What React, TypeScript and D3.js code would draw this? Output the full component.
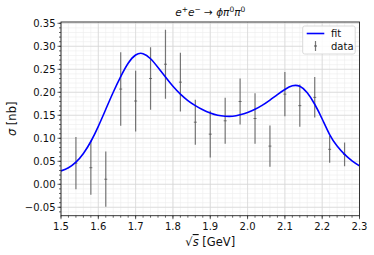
import React from "react";
import * as d3 from "d3";

const dataX = [1.54, 1.58, 1.62, 1.66, 1.70, 1.74, 1.78, 1.82, 1.86, 1.90, 1.94, 1.98, 2.02, 2.06, 2.10, 2.14, 2.18, 2.22, 2.26];
const dataY = [0.046, 0.036, 0.011, 0.207, 0.181, 0.230, 0.261, 0.222, 0.135, 0.109, 0.138, 0.180, 0.143, 0.083, 0.196, 0.171, 0.189, 0.076, 0.065];
const dataErr = [0.057, 0.059, 0.060, 0.080, 0.066, 0.068, 0.075, 0.064, 0.049, 0.051, 0.050, 0.050, 0.055, 0.045, 0.048, 0.046, 0.044, 0.029, 0.026];

const fitX = [1.50, 1.52, 1.54, 1.56, 1.58, 1.60, 1.62, 1.64, 1.66, 1.68, 1.70, 1.72, 1.74, 1.76, 1.78, 1.80, 1.82, 1.84, 1.86, 1.88, 1.90, 1.92, 1.94, 1.96, 1.98, 2.00, 2.02, 2.04, 2.06, 2.08, 2.10, 2.12, 2.14, 2.16, 2.18, 2.20, 2.22, 2.24, 2.26, 2.28, 2.30];
const fitY = [0.029, 0.036, 0.048, 0.067, 0.093, 0.126, 0.163, 0.200, 0.234, 0.263, 0.281, 0.284, 0.273, 0.254, 0.233, 0.213, 0.196, 0.182, 0.171, 0.162, 0.155, 0.150, 0.148, 0.148, 0.151, 0.156, 0.163, 0.172, 0.183, 0.195, 0.206, 0.214, 0.213, 0.199, 0.174, 0.142, 0.108, 0.083, 0.065, 0.051, 0.040];

const xTicks = [1.5, 1.6, 1.7, 1.8, 1.9, 2.0, 2.1, 2.2, 2.3];
const yTicks = [-0.05, 0.0, 0.05, 0.10, 0.15, 0.20, 0.25, 0.30, 0.35];

const W = 374, H = 255;
const L = 61, R = 359.5, T = 22, B = 215.7;

export default function App() {
  const x = d3.scaleLinear().domain([1.5, 2.3]).range([L, R]);
  const y = d3.scaleLinear().domain([-0.0683, 0.3528]).range([B, T]);

  const xMinor = d3.range(0, 41).map((i) => 1.5 + i * 0.02);
  const yMinor = d3.range(-6, 36).map((i) => i * 0.01);

  const line = d3
    .line<number>()
    .x((_, i) => x(fitX[i]))
    .y((d) => y(d))
    .curve(d3.curveNatural);

  const font = "DejaVu Sans, sans-serif";

  return (
    <svg width={W} height={H} style={{ position: "absolute", left: 0, top: 0 }} fontFamily={font}>
      <rect x={0} y={0} width={W} height={H} fill="white" />
      <defs>
        <clipPath id="plotclip">
          <rect x={L} y={T} width={R - L} height={B - T} />
        </clipPath>
      </defs>
      {/* minor grid */}
      <g stroke="#ececec" strokeWidth={0.6}>
        {xMinor.map((v, i) => (
          <line key={"xm" + i} x1={x(v)} x2={x(v)} y1={T} y2={B} />
        ))}
        {yMinor.map((v, i) => (
          <line key={"ym" + i} x1={L} x2={R} y1={y(v)} y2={y(v)} />
        ))}
      </g>
      {/* major grid */}
      <g stroke="#d6d6d6" strokeWidth={0.7}>
        {xTicks.map((v, i) => (
          <line key={"xg" + i} x1={x(v)} x2={x(v)} y1={T} y2={B} />
        ))}
        {yTicks.map((v, i) => (
          <line key={"yg" + i} x1={L} x2={R} y1={y(v)} y2={y(v)} />
        ))}
      </g>
      {/* error bars */}
      <g clipPath="url(#plotclip)" stroke="#555" strokeOpacity={0.8} strokeWidth={1.2}>
        {dataX.map((v, i) => (
          <g key={"e" + i}>
            <line x1={x(v)} x2={x(v)} y1={y(dataY[i] - dataErr[i])} y2={y(dataY[i] + dataErr[i])} />
            <line x1={x(v) - 1.5} x2={x(v) + 1.5} y1={y(dataY[i])} y2={y(dataY[i])} strokeWidth={1} />
          </g>
        ))}
      </g>
      {/* fit */}
      <path d={line(fitY) || ""} fill="none" stroke="#0000ff" strokeWidth={1.6} clipPath="url(#plotclip)" />
      {/* frame */}
      <rect x={L} y={T} width={R - L} height={B - T} fill="none" stroke="#222" strokeWidth={0.9} />
      {/* ticks */}
      <g stroke="#222" strokeWidth={0.7}>
        {xMinor.map((v, i) => (
          <line key={"xmt" + i} x1={x(v)} x2={x(v)} y1={B} y2={B + 2} />
        ))}
        {xTicks.map((v, i) => (
          <line key={"xt" + i} x1={x(v)} x2={x(v)} y1={B} y2={B + 3.5} />
        ))}
        {yMinor.map((v, i) => (
          <line key={"ymt" + i} x1={L} x2={L - 2} y1={y(v)} y2={y(v)} />
        ))}
        {yTicks.map((v, i) => (
          <line key={"yt" + i} x1={L} x2={L - 3.5} y1={y(v)} y2={y(v)} />
        ))}
      </g>
      <g fontSize={10} fill="#111">
        {xTicks.map((v, i) => (
          <text key={"xl" + i} x={x(v)} y={B + 14} textAnchor="middle">
            {v.toFixed(1)}
          </text>
        ))}
        {yTicks.map((v, i) => (
          <text key={"yl" + i} x={L - 5.5} y={y(v) + 3.6} textAnchor="end">
            {(v < 0 ? "\u2212" : "") + Math.abs(v).toFixed(2)}
          </text>
        ))}
      </g>
      {/* axis labels */}
      <text x={(L + R) / 2} y={246} textAnchor="middle" fontSize={11.5} fill="#111">
        <tspan>√</tspan>
        <tspan fontStyle="italic" textDecoration="overline">s</tspan>
        <tspan> [GeV]</tspan>
      </text>
      <text transform={`translate(16,${(T + B) / 2}) rotate(-90)`} textAnchor="middle" fontSize={11.5} fill="#111">
        <tspan fontStyle="italic">σ</tspan>
        <tspan> [nb]</tspan>
      </text>
      {/* title */}
      <text x={(L + R) / 2} y={16} textAnchor="middle" fontSize={10.5} fill="#111" fontStyle="italic">
        <tspan>e</tspan>
        <tspan fontSize={7.5} dy={-4}>+</tspan>
        <tspan dy={4}>e</tspan>
        <tspan fontSize={7.5} dy={-4}>−</tspan>
        <tspan dy={4} fontStyle="normal">{" → "}</tspan>
        <tspan>ϕπ</tspan>
        <tspan fontSize={7.5} dy={-4} fontStyle="normal">0</tspan>
        <tspan dy={4}>π</tspan>
        <tspan fontSize={7.5} dy={-4} fontStyle="normal">0</tspan>
      </text>
      {/* legend */}
      <g>
        <rect x={302.7} y={26} width={52.5} height={28} rx={2} fill="white" fillOpacity={0.85} stroke="#d0d0d0" strokeWidth={0.8} />
        <line x1={306.7} x2={324.3} y1={33.5} y2={33.5} stroke="#0000ff" strokeWidth={1.6} />
        <line x1={315.5} x2={315.5} y1={41} y2={51} stroke="#555" strokeOpacity={0.8} strokeWidth={1.2} />
        <line x1={314} x2={317} y1={46} y2={46} stroke="#555" strokeWidth={1} />
        <text x={331} y={37} fontSize={10} fill="#111">fit</text>
        <text x={331} y={50} fontSize={10} fill="#111">data</text>
      </g>
    </svg>
  );
}
